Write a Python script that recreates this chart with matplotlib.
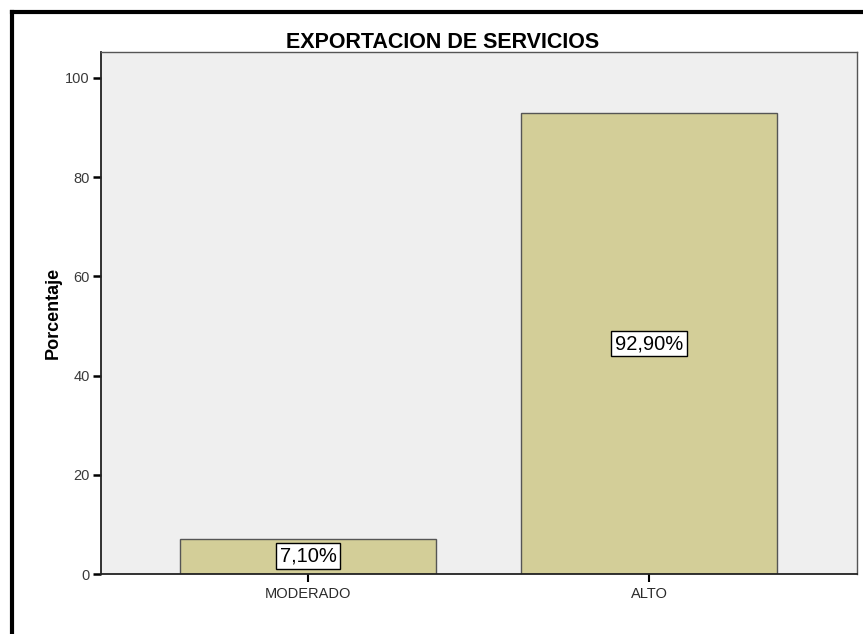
import matplotlib
matplotlib.use('Agg')
import matplotlib.pyplot as plt
from matplotlib.lines import Line2D

plt.rc('font', family=['Liberation Sans', 'DejaVu Sans'])

categorias = ['MODERADO', 'ALTO']
porcentajes = [7.1, 92.9]
etiquetas = ['7,10%', '92,90%']
ticks_y = [0, 20, 40, 60, 80, 100]

fig = plt.figure(figsize=(8.63, 6.34), dpi=100)
ax = fig.add_axes([101/863, 60/634, 756/863, 522/634])
ax.set_facecolor('#efefef')

pos = list(range(len(categorias)))
ax.bar(pos, porcentajes, width=0.75, color='#d3ce98', edgecolor='#555555', linewidth=1.0)

for x, v, t in zip(pos, porcentajes, etiquetas):
    ax.text(x, v / 2, t, ha='center', va='center', fontsize=14.5, color='black',
            bbox=dict(boxstyle='square,pad=0.17', fc='white', ec='black', lw=1.0))

ax.set_xlim(-0.607, 1.61)
ax.set_ylim(0, 105.2)
ax.set_xticks(pos)
ax.set_xticklabels(categorias, fontsize=10.5, color='#2a2a2a')
ax.set_yticks(ticks_y)
ax.set_yticklabels([str(t) for t in ticks_y], fontsize=10.5, color='#3a3a3a')
ax.tick_params(axis='y', direction='out', length=6, width=1.8, color='black', pad=2)
ax.tick_params(axis='x', direction='out', length=6, width=1.5, color='black', pad=3)

for s in ['left', 'bottom']:
    ax.spines[s].set_color('#222222')
    ax.spines[s].set_linewidth(1.3)
for s in ['top', 'right']:
    ax.spines[s].set_color('#555555')
    ax.spines[s].set_linewidth(1.0)

ax.set_ylabel('Porcentaje', fontsize=13, fontweight='bold')
ax.yaxis.set_label_coords(-39/756, 0.5)

fig.text(443/863, 1 - 43/634, 'EXPORTACION DE SERVICIOS', ha='center', va='center',
         fontsize=15.5, fontweight='bold')

# marco exterior (borde superior e izquierdo)
fig.add_artist(Line2D([12/863, 1], [1 - 12/634, 1 - 12/634], color='black', lw=3,
                      transform=fig.transFigure))
fig.add_artist(Line2D([12/863, 12/863], [0, 1 - 12/634], color='black', lw=3,
                      transform=fig.transFigure))

fig.savefig('out.png', dpi=100)
